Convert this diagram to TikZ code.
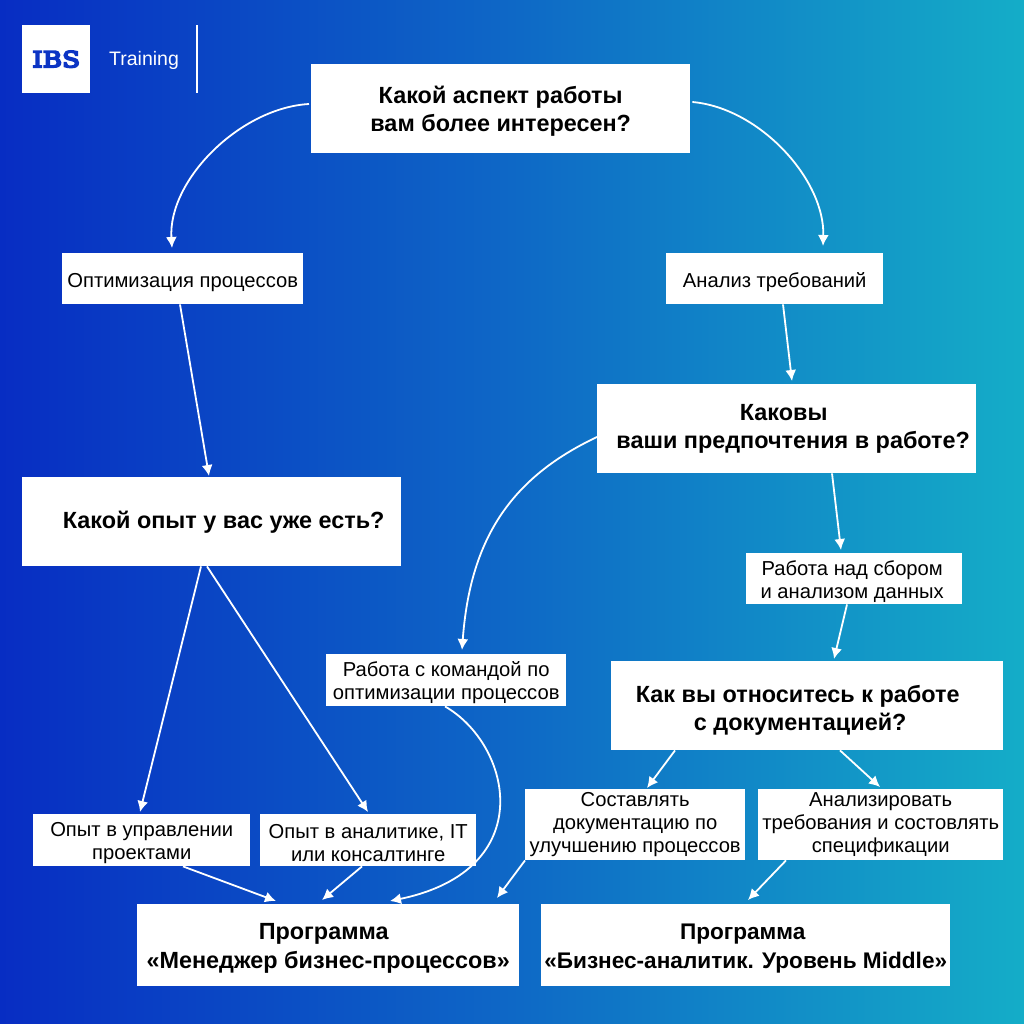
\documentclass[tikz,border=0pt]{standalone}
\usepackage{fontspec}
\setmainfont{Liberation Sans}
\newfontfamily\logofont[FakeBold=8,FakeStretch=1.2]{DejaVu Serif}
\usetikzlibrary{arrows.meta}
\definecolor{bgA}{RGB}{6,32,194}
\definecolor{bgB}{RGB}{14,104,198}
\definecolor{bgC}{RGB}{22,188,200}
\definecolor{logoblue}{RGB}{12,52,196}
\pgfdeclarehorizontalshading{bgshade}{100bp}{color(0bp)=(bgA); color(33bp)=(bgA); color(50bp)=(bgB); color(67bp)=(bgC); color(100bp)=(bgC)}
\newcommand\dnrule[1]{\rule{0pt}{#1pt}}
\tikzset{
  x=1pt,y=-1pt,
  box/.style={fill=white,inner sep=0pt,align=center,text=black,anchor=north west,font=\fontsize{20.2}{23}\selectfont},
  qbox/.style={box,font=\fontsize{23.4}{28.5}\selectfont\bfseries},
  arr/.style={draw=white,line width=1.8pt,-{Latex[length=11pt,width=11pt]}},
  sz/.style n args={2}{minimum width=#1pt,minimum height=#2pt}
}
\begin{document}
\begin{tikzpicture}
\useasboundingbox (0,0) rectangle (1024,1024);
\begin{scope}
\clip (0,0) rectangle (1024,1024);
\shade[rotate around={-8:(512,512)},shading=bgshade] (-300,-300) rectangle (1324,1324);
\end{scope}
% logo
\node[fill=white,inner sep=0pt,anchor=north west,sz={68}{68},text=logoblue,font=\logofont\fontsize{22}{22}\selectfont] (logo) at (22,25) {IBS};
\node[text=white,inner sep=0pt,anchor=west,font=\fontsize{19.5}{20}\selectfont] (train) at (109,60) {Training};
\coordinate (ruleT) at (197,25);
\coordinate (ruleB) at (197,93);
\draw[white,line width=1.3pt] (ruleT) -- (ruleB);
% boxes
\node[qbox,sz={379}{89}] (q1) at (311,64) {\dnrule{22}Какой аспект работы\\вам более интересен?};
\node[box,sz={241}{51}] (a1) at (62,253) {\dnrule{22.5}Оптимизация процессов};
\node[box,sz={217}{51}] (a2) at (666,253) {\dnrule{22.5}Анализ требований};
\node[qbox,sz={379}{89}] (q2) at (597,384) {\hspace*{-6pt}Каковы\\\hspace*{13pt}ваши предпочтения в работе?};
\node[qbox,sz={379}{89}] (q3) at (22,477) {\dnrule{19}\hspace*{24pt}Какой опыт у вас уже есть?};
\node[box,sz={216}{51}] (b1) at (746,553) {\dnrule{20}\hspace*{-4pt}Работа над сбором\\\hspace*{-4pt}и анализом данных};
\node[box,sz={240}{52}] (b2) at (326,654) {\dnrule{20}Работа с командой по\\оптимизации процессов};
\node[qbox,sz={392}{89}] (q4) at (611,661) {\dnrule{26}\hspace*{-19pt}Как вы относитесь к работе\\\hspace*{-14pt}с документацией?};
\node[box,sz={217}{52}] (c1) at (33,814) {\dnrule{19}Опыт в управлении\\проектами};
\node[box,sz={216}{52}] (c2) at (260,814) {\dnrule{19}Опыт в аналитике, IT\\или консалтинге};
\node[box,sz={220}{71}] (d1) at (525,789) {Составлять\\документацию по\\улучшению процессов};
\node[box,sz={245}{71}] (d2) at (758,789) {Анализировать\\требования и состовлять\\спецификации};
\node[qbox,sz={382}{82}] (p1) at (137,904) {\dnrule{22}\hspace*{-9pt}Программа\\«Менеджер бизнес-процессов»};
\node[qbox,sz={409}{82},font=\fontsize{22.6}{28.5}\selectfont\bfseries] (p2) at (541,904) {\dnrule{22}\hspace*{-6pt}Программа\\«Бизнес-аналитик. Уровень Middle»};
% connectors
\draw[arr] ([shift={(-2,40)}]q1.north west) .. controls (240,108) and (168,180) .. ([shift={(110,-5)}]a1.north west);
\draw[arr] ([shift={(2,38)}]q1.north east) .. controls (760,108) and (825,180) .. ([shift={(157,-7)}]a2.north west);
\draw[arr] ([xshift=118]a1.south west) -- ([shift={(187,-1)}]q3.north west);
\draw[arr] ([xshift=117]a2.south west) -- ([shift={(195,-3)}]q2.north west);
\draw[arr] ([shift={(0,53)}]q2.north west) .. controls (510,478) and (470,540) .. ([shift={(136,-4)}]b2.north west);
\draw[arr] ([xshift=235]q2.south west) -- ([shift={(95,-3)}]b1.north west);
\draw[arr] ([xshift=101]b1.south west) -- ([shift={(223,-2)}]q4.north west);
\draw[arr] ([xshift=179]q3.south west) -- ([shift={(107,-2)}]c1.north west);
\draw[arr] ([xshift=185]q3.south west) -- ([shift={(108,-2)}]c2.north west);
\draw[arr] ([xshift=119]b2.south west) .. controls (512,745) and (540,870) .. ([shift={(253,-3)}]p1.north west);
\draw[arr] ([xshift=150]c1.south west) -- ([shift={(139,-3)}]p1.north west);
\draw[arr] ([xshift=102]c2.south west) -- ([shift={(185,-4)}]p1.north west);
\draw[arr] (d1.south west) -- ([shift={(360,-6)}]p1.north west);
\draw[arr] ([xshift=28]d2.south west) -- ([shift={(207,-4)}]p2.north west);
\draw[arr] ([xshift=64]q4.south west) -- ([shift={(122,-1)}]d1.north west);
\draw[arr] ([xshift=229]q4.south west) -- ([shift={(122,-2)}]d2.north west);
\end{tikzpicture}
\end{document}
